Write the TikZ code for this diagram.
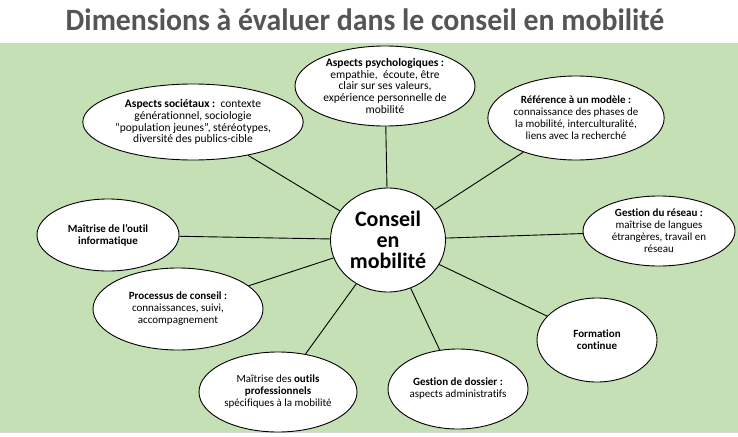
\documentclass[tikz,border=0pt]{standalone}
\usepackage{fontspec}
\setmainfont{Carlito}[Ligatures=NoCommon]
\usetikzlibrary{shapes.geometric}
\definecolor{fond}{RGB}{197,224,180}
\definecolor{titre}{RGB}{85,85,85}
\begin{document}
\begin{tikzpicture}[x=1pt,y=-1pt,line width=0.9pt,
    bulle/.style={draw,ellipse,fill=white,inner sep=0pt,align=center,font=\fontsize{11}{12}\selectfont},
    grand/.style={font=\fontsize{11.5}{11.8}\selectfont}]
  \useasboundingbox (0,0) rectangle (738,436);
  \fill[fond] (0,43) rectangle (738,432);
  \draw[thin,gray!30] (0,432.5)--(738,432.5);
  \node[anchor=base,text=titre,font=\fontsize{31}{32}\selectfont\bfseries] (titre) at (365,31) {\scalebox{0.96}[1]{Dimensions à évaluer dans le conseil en mobilité}};
  % les bulles autour
  \node[bulle,grand,minimum width=208,minimum height=76] (soc) at (193,122) {\textbf{Aspects sociétaux :}\ \ contexte\\générationnel, sociologie\\“population jeunes”, stéréotypes,\\diversité des publics-cible};
  \node[bulle,grand,minimum width=180,minimum height=80] (psy) at (385,86) {\textbf{Aspects psychologiques :}\\empathie,\ \ écoute, être\\clair sur ses valeurs,\\expérience personnelle de\\mobilité};
  \node[bulle,minimum width=174,minimum height=84] (ref) at (576,118) {\textbf{Référence à un modèle :}\\connaissance des phases de\\la mobilité, interculturalité,\\liens avec la recherché};
  \node[bulle,minimum width=142,minimum height=72] (info) at (108,235) {\textbf{Maîtrise de l’outil}\\\textbf{informatique}};
  \node[bulle,minimum width=152,minimum height=70] (res) at (659,231) {\textbf{Gestion du réseau :}\\maîtrise de langues\\étrangères, travail en\\réseau};
  \node[bulle,minimum width=170,minimum height=82] (proc) at (178,309) {\textbf{Processus de conseil :}\\connaissances, suivi,\\accompagnement};
  \node[bulle,minimum width=158,minimum height=80] (outils) at (278,392) {Maîtrise des \textbf{outils}\\\textbf{professionnels}\\spécifiques à la mobilité};
  \node[bulle,minimum width=140,minimum height=80] (doss) at (458,389) {\textbf{Gestion de dossier :}\\aspects administratifs};
  \node[bulle,minimum width=120,minimum height=84] (form) at (597,340) {\textbf{Formation}\\\textbf{continue}};
  % le centre
  \node[bulle,minimum width=115,minimum height=104,font=\fontsize{22}{21}\selectfont\bfseries] (conseil) at (388,240) {Conseil\\en\\mobilité};
  \foreach \b in {soc,psy,ref,info,res,proc,outils,doss,form}
    \draw (conseil)--(\b);
\end{tikzpicture}
\end{document}
